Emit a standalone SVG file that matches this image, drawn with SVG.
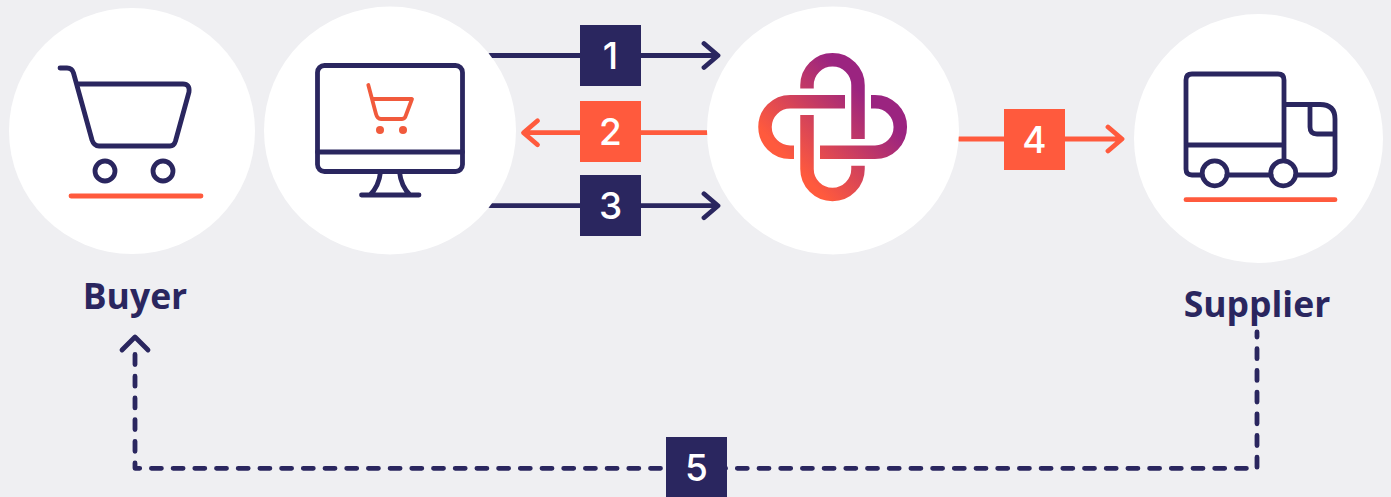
<svg xmlns="http://www.w3.org/2000/svg" width="1391" height="497" viewBox="0 0 1391 497">
<style>
.c{fill:#fff}
.n{fill:none;stroke:#2A265F;stroke-width:4.800;stroke-linecap:round;stroke-linejoin:round}
.o{fill:none;stroke:#FF5A3D;stroke-width:4.800;stroke-linecap:round;stroke-linejoin:round}
.l{fill:none;stroke:url(#g);stroke-width:13.500}
.bn{fill:#2A265F}.bo{fill:#FF5A3D}
.d{font-family:"Inter","Roboto",sans-serif;font-size:37px;font-weight:500;fill:#fff;text-anchor:middle}
.t{font-family:"Open Sans","Noto Sans",sans-serif;font-size:35.500px;font-weight:700;fill:#2A265F;text-anchor:middle}
</style>
<defs>
<linearGradient id="g" gradientUnits="userSpaceOnUse" x1="790" y1="170" x2="880" y2="85">
<stop offset="0.05" stop-color="#FF5A3D"/><stop offset="0.85" stop-color="#9B2480"/>
</linearGradient>
</defs>
<rect width="1391" height="497" fill="#EFEFF2"/>
<g id="connectors">
<path class="n" d="M490,55.500H717M704,43.500L718,55.500L704,67.500"/>
<path class="o" d="M707,132.700H524M537.500,120.700L523.500,132.700L537.500,144.700"/>
<path class="n" d="M490,205.700H717M704,193.700L718,205.700L704,217.700"/>
<path class="o" d="M959,139H1121M1108,127L1122,139L1108,151"/>
<path class="n" d="M135,354.500V468.300H1257V332" stroke-dasharray="10 11.700"/>
<path class="n" d="M122,350L135,337L148,350"/>
</g>
<g id="buyer">
<circle class="c" cx="132" cy="131" r="123"/>
<path class="n" d="M60,68H67Q72,68 73.500,73L92,140Q94,146 99,146H170Q174,146 175.500,141L189,92Q190,84 183,84H77"/>
<circle class="n" cx="105" cy="171" r="10"/><circle class="n" cx="163" cy="171" r="10"/>
<path class="o" d="M71,196H201"/>
<text class="t" x="135" y="308.500">Buyer</text>
</g>
<g id="shop">
<ellipse class="c" cx="390" cy="130.500" rx="126" ry="124"/>
<rect class="n" x="317.500" y="65.500" width="145" height="106" rx="7"/>
<path class="n" d="M317.500,152H462.500M380.500,172Q379,186 370,195M399.500,172Q401,186 410,195M361.500,195H419"/>
<path class="o" style="stroke:#F15A3C;stroke-width:3.800" d="M368.300,85L376,114Q377.300,119 381,119H402Q405,119 406,115L412,99H373.500"/>
<circle cx="380" cy="130" r="4" fill="#F15A3C"/><circle cx="403" cy="130" r="4" fill="#F15A3C"/>
</g>
<g id="platform">
<ellipse class="c" cx="833" cy="130.500" rx="126" ry="124"/>
<path class="l" d="M807,88.500V85.300A25.500,25.500 0 0 1 858,85.300V139"/>
<path class="l" d="M845,101.700H790.300A25.300,25.300 0 0 0 790.300,152.300H794"/>
<path class="l" d="M871,101.700H875A25.300,25.300 0 0 1 875,152.300H820"/>
<path class="l" d="M807,115V169A25.500,25.500 0 0 0 858,169V165.700"/>
</g>
<g id="supplier">
<circle class="c" cx="1258.500" cy="138.500" r="124.500"/>
<path class="n" d="M1201,175H1192Q1186,175 1186,169V80Q1186,74 1192,74H1278Q1284,74 1284,80V160M1186,145H1284M1227,175H1271M1284,104.500H1320Q1335,104.500 1335,119V169Q1335,175 1329,175H1296M1310,104.500V127Q1310,134 1317,134H1335"/>
<circle class="n" cx="1214.700" cy="173.300" r="12.500"/><circle class="n" cx="1283.300" cy="173.300" r="12.500"/>
<path class="o" d="M1186,199.700H1335"/>
<text class="t" x="1257" y="316.500">Supplier</text>
</g>
<g id="step1"><rect class="bn" x="580" y="25" width="61" height="61"/><text class="d" x="610.500" y="69">1</text></g>
<g id="step2"><rect class="bo" x="580" y="101" width="61" height="61"/><text class="d" x="610.500" y="145">2</text></g>
<g id="step3"><rect class="bn" x="580" y="175" width="61" height="61"/><text class="d" x="610.500" y="219">3</text></g>
<g id="step4"><rect class="bo" x="1004" y="109" width="61" height="61"/><text class="d" x="1034.500" y="153">4</text></g>
<g id="step5"><rect class="bn" x="666" y="437" width="61" height="60"/><text class="d" x="696.500" y="481">5</text></g>
</svg>
